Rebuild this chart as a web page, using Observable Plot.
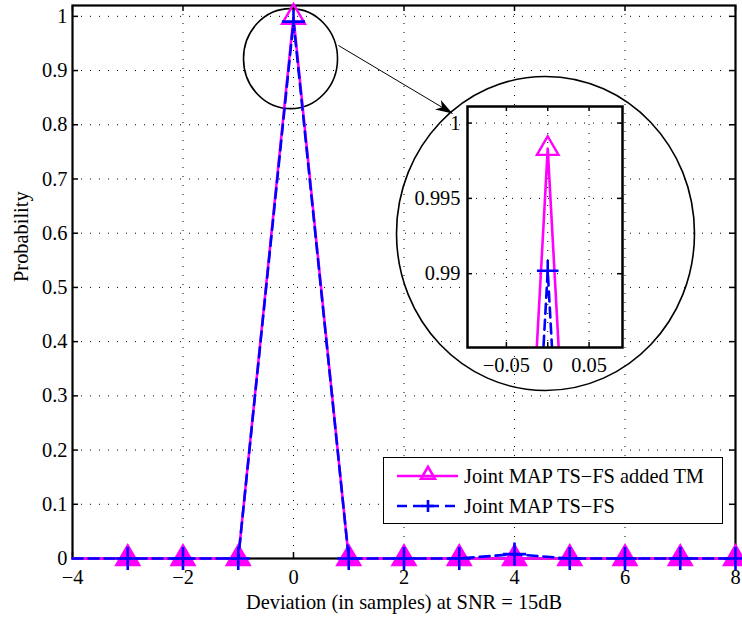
<!DOCTYPE html>
<html><head><meta charset="utf-8">
<script src="https://cdn.jsdelivr.net/npm/d3@7"></script>
<script src="https://cdn.jsdelivr.net/npm/@observablehq/plot@0.6"></script>
<style>
body{margin:0;background:#fff;}
#wrap{position:relative;width:742px;height:619px;font-family:"Liberation Serif","Times New Roman",Times,serif;overflow:hidden;}
#wrap > svg{position:absolute;}
#legend{position:absolute;left:383px;top:457px;width:338px;height:65px;border:1.5px solid #000;background:#fff;}
#legend .row{position:absolute;left:0;height:30px;display:flex;align-items:center;font-size:20.4px;white-space:nowrap;}
#legend svg{position:static;}
</style></head><body><div id="wrap"></div>
<script>
// ---- data ----
const xValues = [-4, -3, -2, -1, 0, 1, 2, 3, 4, 5, 6, 7, 8];
const addedTM = [0, 0, 0, 0, 0.9983, 0, 0, 0, 0, 0, 0, 0, 0];
const tsfs    = [0, 0, 0, 0, 0.9902, 0, 0, 0, 0.008, 0, 0, 0, 0];
const seriesNames = ["Joint MAP TS\u2212FS added TM", "Joint MAP TS\u2212FS"];
const xTicks = [-4, -2, 0, 2, 4, 6, 8];
const yTicks = [0, 0.1, 0.2, 0.3, 0.4, 0.5, 0.6, 0.7, 0.8, 0.9, 1];
const xDomain = [-4, 8];
const yDomain = [0, 1.02];
const xLabel = "Deviation (in samples) at SNR = 15dB";
const yLabel = "Probability";
// inset (zoom) axes
const insetXDomain = [-0.097, 0.0904];
const insetYDomain = [0.9851, 1.0011];
const insetXTicks = [-0.05, 0, 0.05];
const insetYTicks = [0.99, 0.995, 1];
// annotations (data coordinates)
const smallCircle = [{x: -0.054, y: 0.922}];
const bigCircle = [{x: 4.561, y: 0.5995}];
const arrowLink = [{x1: 0.8145, y1: 0.9462, x2: 2.878, y2: 0.8208}];

const data = xValues.map((x, i) => ({x, a: addedTM[i], b: tsfs[i]}));
const markerData = data.filter(d => d.x >= -3);
const FONT = '"Liberation Serif","Times New Roman",Times,serif';
const MAG = "#ff00ff", BLUE = "#0000ff";
const fmt = d => d < 0 ? "\u2212" + String(-d) : String(d);

const ellipseSym = (fx, fy) => ({
  draw(ctx, size) {
    const r = Math.sqrt(size / Math.PI), a = r * fx, b = r * fy, k = 0.5523;
    ctx.moveTo(a, 0);
    ctx.bezierCurveTo(a, k * b, k * a, b, 0, b);
    ctx.bezierCurveTo(-k * a, b, -a, k * b, -a, 0);
    ctx.bezierCurveTo(-a, -k * b, -k * a, -b, 0, -b);
    ctx.bezierCurveTo(k * a, -b, a, -k * b, a, 0);
    ctx.closePath();
  }
});
const arrowHead = {
  draw(ctx, size) {
    const L = Math.sqrt(size / Math.PI);
    ctx.moveTo(0, 0);
    ctx.lineTo(-L * 0.33, L);
    ctx.lineTo(0, L * 0.72);
    ctx.lineTo(L * 0.33, L);
    ctx.closePath();
  }
};

const W = 742, H = 619, mL = 72, mR = 7, mT = 5, mB = 61;
const pw = W - mL - mR, ph = H - mT - mB;

const main = Plot.plot({
  width: W, height: H, marginLeft: mL, marginRight: mR, marginTop: mT, marginBottom: mB,
  style: {fontFamily: FONT, fontSize: "20.4px", background: "white", color: "black", overflow: "visible"},
  x: {domain: xDomain, ticks: xTicks, tickSize: 0, tickPadding: 11, tickFormat: fmt, label: null},
  y: {domain: yDomain, ticks: yTicks, tickSize: 0, tickPadding: 5, tickFormat: d => String(d), label: null},
  marks: [
    Plot.ruleX(xTicks, {stroke: "#000", strokeWidth: 1, strokeDasharray: "1,8"}),
    Plot.ruleY(yTicks, {stroke: "#000", strokeWidth: 1, strokeDasharray: "1,8"}),
    Plot.ruleX(xTicks, {stroke: "#000", strokeWidth: 1.5, insetTop: ph - 6}),
    Plot.ruleX(xTicks, {stroke: "#000", strokeWidth: 1.5, insetBottom: ph - 6}),
    Plot.ruleY(yTicks, {stroke: "#000", strokeWidth: 1.5, insetRight: pw - 6}),
    Plot.ruleY(yTicks, {stroke: "#000", strokeWidth: 1.5, insetLeft: pw - 6}),
    Plot.frame({stroke: "#000", strokeWidth: 2.2}),
    Plot.dot(smallCircle, {x: "x", y: "y", r: 50, symbol: ellipseSym(0.94, 1), stroke: "#000", strokeWidth: 1.6, fill: "none"}),
    Plot.dot(bigCircle, {x: "x", y: "y", r: 157, symbol: ellipseSym(0.949, 1), stroke: "#000", strokeWidth: 1.6, fill: "none"}),
    Plot.link(arrowLink, {x1: "x1", y1: "y1", x2: "x2", y2: "y2", stroke: "#000", strokeWidth: 1}),
    Plot.dot(arrowLink, {x: "x2", y: "y2", r: 17, symbol: arrowHead, rotate: 121, fill: "#000", stroke: "none"}),
    Plot.line(data, {x: "x", y: "a", stroke: MAG, strokeWidth: 2.6}),
    Plot.dot(markerData, {x: "x", y: "a", symbol: "triangle", r: 8.5, stroke: MAG, strokeWidth: 2.4, fill: d => d.a === 0 ? MAG : "none"}),
    Plot.line(data, {x: "x", y: "b", stroke: BLUE, strokeWidth: 2.6, strokeDasharray: "10,6"}),
    Plot.dot(markerData, {x: "x", y: "b", symbol: "plus", r: 7.5, stroke: BLUE, strokeWidth: 2.6}),
    Plot.text([xLabel], {x: () => (xDomain[0] + xDomain[1]) / 2, frameAnchor: "bottom", dy: 44, lineAnchor: "middle", text: d => d, fontSize: 20.4}),
    Plot.text([yLabel], {y: () => 0.51, frameAnchor: "left", dx: -51, rotate: -90, text: d => d, fontSize: 20.4})
  ]
});
main.style.left = "0px"; main.style.top = "0px";
document.getElementById("wrap").appendChild(main);

// ---- inset ----
const iW = 207, iH = 273, imL = 50, imR = 2, imT = 2, imB = 30;
const ipw = iW - imL - imR, iph = iH - imT - imB;
const inset = Plot.plot({
  width: iW, height: iH, marginLeft: imL, marginRight: imR, marginTop: imT, marginBottom: imB,
  style: {fontFamily: FONT, fontSize: "20.4px", background: "transparent", color: "black", overflow: "visible"},
  x: {domain: insetXDomain, ticks: insetXTicks, tickSize: 0, tickPadding: 10, tickFormat: fmt, label: null},
  y: {domain: insetYDomain, ticks: insetYTicks, tickSize: 0, tickPadding: 7, tickFormat: d => String(d), label: null},
  marks: [
    Plot.frame({fill: "white", stroke: "none"}),
    Plot.ruleX(insetXTicks, {stroke: "#000", strokeWidth: 1, strokeDasharray: "1,8"}),
    Plot.ruleY(insetYTicks, {stroke: "#000", strokeWidth: 1, strokeDasharray: "1,8"}),
    Plot.ruleX(insetXTicks, {stroke: "#000", strokeWidth: 1.5, insetTop: iph - 5}),
    Plot.ruleX(insetXTicks, {stroke: "#000", strokeWidth: 1.5, insetBottom: iph - 5}),
    Plot.ruleY(insetYTicks, {stroke: "#000", strokeWidth: 1.5, insetRight: ipw - 5}),
    Plot.ruleY(insetYTicks, {stroke: "#000", strokeWidth: 1.5, insetLeft: ipw - 5}),
    Plot.line(data, {x: "x", y: "a", stroke: MAG, strokeWidth: 2.6, clip: true}),
    Plot.dot(data, {x: "x", y: "a", symbol: "triangle", r: 8, stroke: MAG, strokeWidth: 2.4, fill: "none", clip: true}),
    Plot.line(data, {x: "x", y: "b", stroke: BLUE, strokeWidth: 2.6, strokeDasharray: "10,6", clip: true}),
    Plot.dot(data, {x: "x", y: "b", symbol: "plus", r: 7, stroke: BLUE, strokeWidth: 2.6, clip: true}),
    Plot.frame({stroke: "#000", strokeWidth: 2.5})
  ]
});
inset.style.left = (467 - imL) + "px"; inset.style.top = (106 - imT) + "px";
document.getElementById("wrap").appendChild(inset);

// ---- legend ----
const legend = document.createElement("div");
legend.id = "legend";
const rows = [
  {name: seriesNames[0], color: MAG, dash: null, sym: "tri", top: 3},
  {name: seriesNames[1], color: BLUE, dash: "10,6", sym: "plus", top: 33}
];
rows.forEach(r => {
  const row = document.createElement("div");
  row.className = "row";
  row.style.top = r.top + "px";
  const ns = "http://www.w3.org/2000/svg";
  const s = document.createElementNS(ns, "svg");
  s.setAttribute("width", 80); s.setAttribute("height", 30);
  const ln = document.createElementNS(ns, "line");
  ln.setAttribute("x1", 13); ln.setAttribute("x2", 74); ln.setAttribute("y1", 15); ln.setAttribute("y2", 15);
  ln.setAttribute("stroke", r.color); ln.setAttribute("stroke-width", 2.6);
  if (r.dash) ln.setAttribute("stroke-dasharray", r.dash);
  s.appendChild(ln);
  const p = document.createElementNS(ns, "path");
  if (r.sym === "tri") {
    p.setAttribute("d", "M44,5.8L50.9,17.7L37.1,17.7Z");
    p.setAttribute("fill", "none");
  } else {
    p.setAttribute("d", "M38,15H50M44,9V21");
  }
  p.setAttribute("stroke", r.color); p.setAttribute("stroke-width", 2.6);
  s.appendChild(p);
  row.appendChild(s);
  const t = document.createElement("span");
  t.textContent = r.name;
  row.appendChild(t);
  legend.appendChild(row);
});
document.getElementById("wrap").appendChild(legend);
</script></body></html>
